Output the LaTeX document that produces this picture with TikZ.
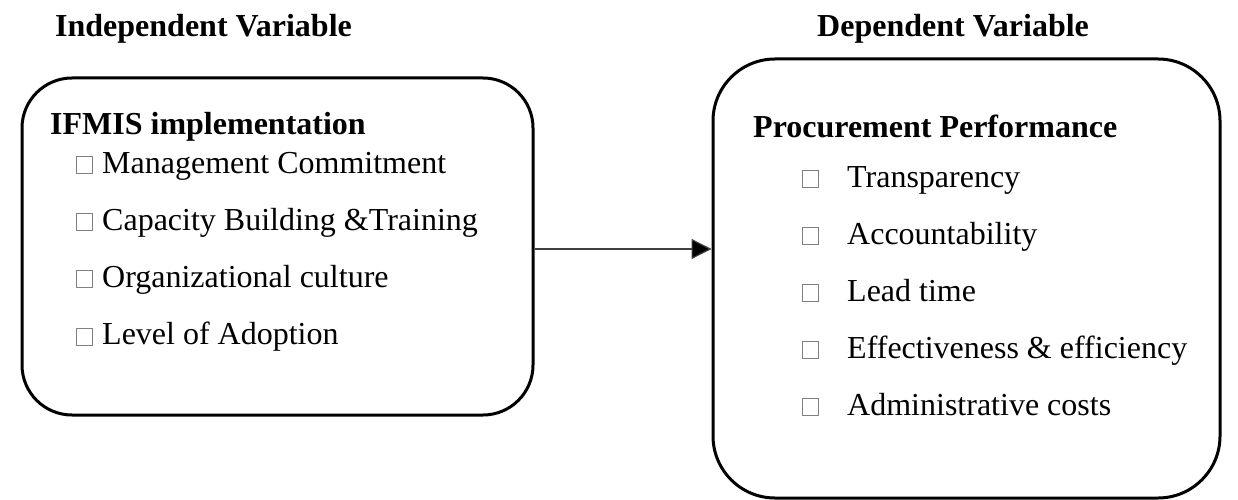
\documentclass[tikz,border=0pt]{standalone}
\usepackage{fontspec}
\setmainfont{Liberation Serif}
\usepackage{tikz}
\usetikzlibrary{calc,arrows.meta}
\definecolor{ink}{HTML}{000000}
\definecolor{glyph}{HTML}{808080}
\tikzset{
  frame/.style={draw=ink, line width=3pt, rounded corners=#1, inner sep=0pt},
  conn/.style={draw=black!75, line width=1.2pt, -{Triangle[length=20pt,width=20pt,fill=ink]}},
  head/.style={anchor=base west, inner sep=0pt, font=\fontsize{32}{38}\selectfont\bfseries},
  item/.style={anchor=base west, inner sep=0pt, font=\fontsize{32}{38}\selectfont},
  tick/.style={draw=glyph, line width=0.9pt, minimum width=16pt, minimum height=17pt, inner sep=0pt, anchor=south west}
}
\begin{document}
\begin{tikzpicture}[x=1pt,y=-1pt]
  \useasboundingbox (0,0) rectangle (1238,500);

  % titles
  \node[head] (tind) at (55,37) {Independent Variable};
  \node[head] (tdep) at (817,37) {Dependent Variable};

  % boxes
  \node[frame=50pt, minimum width=511pt, minimum height=337pt] (lbox) at (277.5,246.5) {};
  \node[frame=62pt, minimum width=507pt, minimum height=439pt] (rbox) at (966.5,278.5) {};

  % left contents
  \node[head] (lhead) at (50,135) {IFMIS implementation};
  \foreach \txt [count=\i] in {Management Commitment,Capacity Building \&Training,Organizational culture,Level of Adoption} {
    \node[tick] (lsq\i) at (75.5,{173.5+57.3*(\i-1)}) {};
    \node[item] (lit\i) at (102,{173+57.3*(\i-1)}) {\txt};
  }

  % right contents
  \node[head] (rhead) at (753,137) {Procurement Performance};
  \foreach \txt [count=\i] in {Transparency,Accountability,Lead time,Effectiveness \& efficiency,Administrative costs} {
    \node[tick] (rsq\i) at (801.5,{187.5+57*(\i-1)}) {};
    \node[item] (rit\i) at (847,{187+57*(\i-1)}) {\txt};
  }

  % link
  \draw[conn] ([yshift=-2.5pt]lbox.east) -- ([yshift=-2.5pt]lbox.east -| rbox.west);
\end{tikzpicture}
\end{document}
